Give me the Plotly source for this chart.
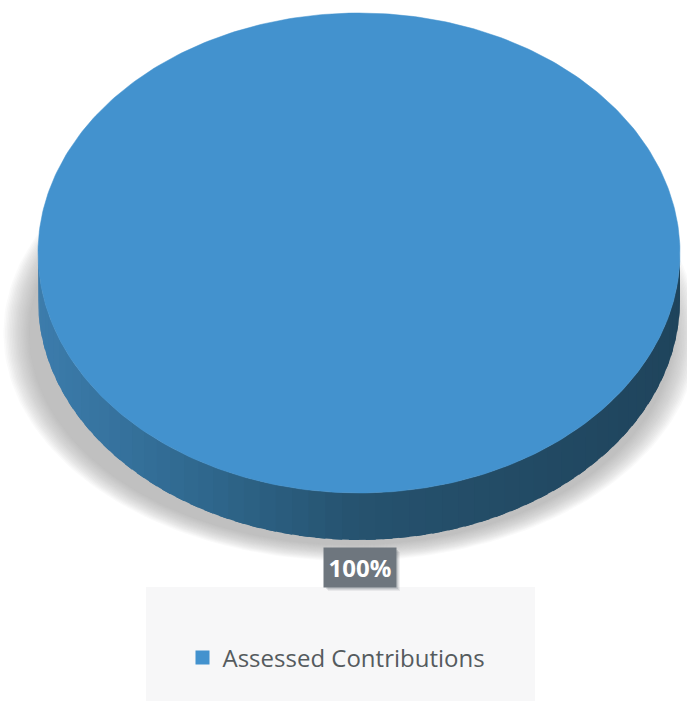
import numpy as np
import plotly.graph_objects as go

# ---- data ----
categories = ["Assessed Contributions"]
values = [100]
colors = ["#4392ce"]

# ---- geometry (pixel space) ----
W, H = 687, 701
cx, cy = 359, 253
rx, ry = 321, 240
depth = 47

total = float(sum(values))
fracs = [v / total for v in values]


def ellipse(cxx, cyy, a, b, t):
    return cxx + a * np.cos(t), cyy + b * np.sin(t)


fig = go.Figure()

# soft shadow under the disc
K = 16
for k in range(K, -1, -1):
    sx, sy = ellipse(cx - 8, cy + 80, 322 + 1.6 * k, 212 + 1.0 * k,
                     np.linspace(0, 2 * np.pi, 240))
    fig.add_trace(go.Scatter(x=sx, y=sy, mode="lines", fill="toself",
                             fillcolor="rgba(150,155,162,0.05)",
                             line=dict(width=0), hoverinfo="skip",
                             showlegend=False))

# side wall (front half of the disc), shaded strips
grad = [(0.0, (60, 124, 172)), (0.25, (47, 104, 142)), (0.5, (38, 82, 110)),
        (1.0, (31, 68, 92))]


def side_col(u):
    for (u0, c0), (u1, c1) in zip(grad[:-1], grad[1:]):
        if u <= u1:
            f = (u - u0) / (u1 - u0) if u1 > u0 else 0
            return "rgb(%d,%d,%d)" % tuple(round(a + (b - a) * f) for a, b in zip(c0, c1))
    return "rgb(%d,%d,%d)" % grad[-1][1]


start = -np.pi / 2
cum = start
for i, fr in enumerate(fracs):
    a0, a1 = cum, cum + fr * 2 * np.pi
    cum = a1
    spans = []
    for off in (-2 * np.pi, 0, 2 * np.pi):
        lo, hi = max(a0 + off, 0), min(a1 + off, np.pi)
        if hi > lo:
            spans.append((lo, hi))
    for lo, hi in spans:
        N = 60
        edges = np.linspace(lo, hi, N + 1)
        for j, (t0, t1) in enumerate(zip(edges[:-1], edges[1:])):
            t1e = min(t1 + (hi - lo) / N * 0.6, hi)
            t = np.linspace(t0, t1e, 5)
            tx, ty = ellipse(cx, cy, rx, ry, t)
            bx, by = ellipse(cx, cy + depth, rx, ry, t[::-1])
            tm = 0.5 * (t0 + t1)
            u = (1 + np.cos(tm)) / 2  # 1 at right, 0 at left
            c = side_col(u)
            fig.add_trace(go.Scatter(x=np.r_[tx, bx], y=np.r_[ty, by],
                                     mode="lines", fill="toself", fillcolor=c,
                                     line=dict(width=0),
                                     hoverinfo="skip", showlegend=False))

# top face
cum = start
for i, fr in enumerate(fracs):
    a0, a1 = cum, cum + fr * 2 * np.pi
    cum = a1
    t = np.linspace(a0, a1, 400)
    ex, ey = ellipse(cx, cy, rx, ry, t)
    if fr < 1:
        ex, ey = np.r_[cx, ex, cx], np.r_[cy, ey, cy]
    fig.add_trace(go.Scatter(x=ex, y=ey, mode="lines", fill="toself",
                             fillcolor=colors[i], line=dict(width=0.5, color=colors[i]),
                             name=categories[i], hoverinfo="name+text",
                             text=["%d%%" % round(fr * 100)] * len(ex),
                             showlegend=False))

# legend entries
for i, cat in enumerate(categories):
    fig.add_trace(go.Scatter(x=[None], y=[None], mode="markers",
                             marker=dict(symbol="square", size=14, color=colors[i]),
                             name=cat))

# data label
lab_x, lab_y = cx + 1, 567.5
for dx, dy, op in [(4, 4, 0.08), (3, 3, 0.10), (2, 2, 0.14)]:
    fig.add_shape(type="rect", xref="x", yref="y",
                  x0=lab_x - 36 + dx, x1=lab_x + 36 + dx,
                  y0=lab_y - 19.5 + dy, y1=lab_y + 19.5 + dy,
                  fillcolor="rgba(60,70,80,%.2f)" % op, line=dict(width=0), layer="above")
fig.add_annotation(x=lab_x, y=lab_y, xref="x", yref="y",
                   text="<b>%d%%</b>" % round(fracs[0] * 100), showarrow=False,
                   font=dict(family="Open Sans", size=24, color="white"),
                   bgcolor="#6e767e", borderpad=4, width=64, height=31)

# legend panel
fig.add_shape(type="rect", xref="x", yref="y", x0=146, x1=535, y0=587, y1=701,
              fillcolor="#f7f7f8", line=dict(width=0), layer="below")

fig.update_layout(
    width=W, height=H, margin=dict(l=0, r=0, t=0, b=0),
    paper_bgcolor="white", plot_bgcolor="white",
    xaxis=dict(range=[0, W], visible=False, fixedrange=True),
    yaxis=dict(range=[H, 0], visible=False, fixedrange=True),
    showlegend=True,
    legend=dict(x=336.5 / W, y=1 - 658 / H, xanchor="center", yanchor="middle",
                bgcolor="rgba(0,0,0,0)",
                font=dict(family="Open Sans", size=24, color="#555b5e")),
)

fig.write_html("out.html", config={"displayModeBar": False},
               post_script="document.body.style.margin='0';document.body.style.overflow='hidden';")
